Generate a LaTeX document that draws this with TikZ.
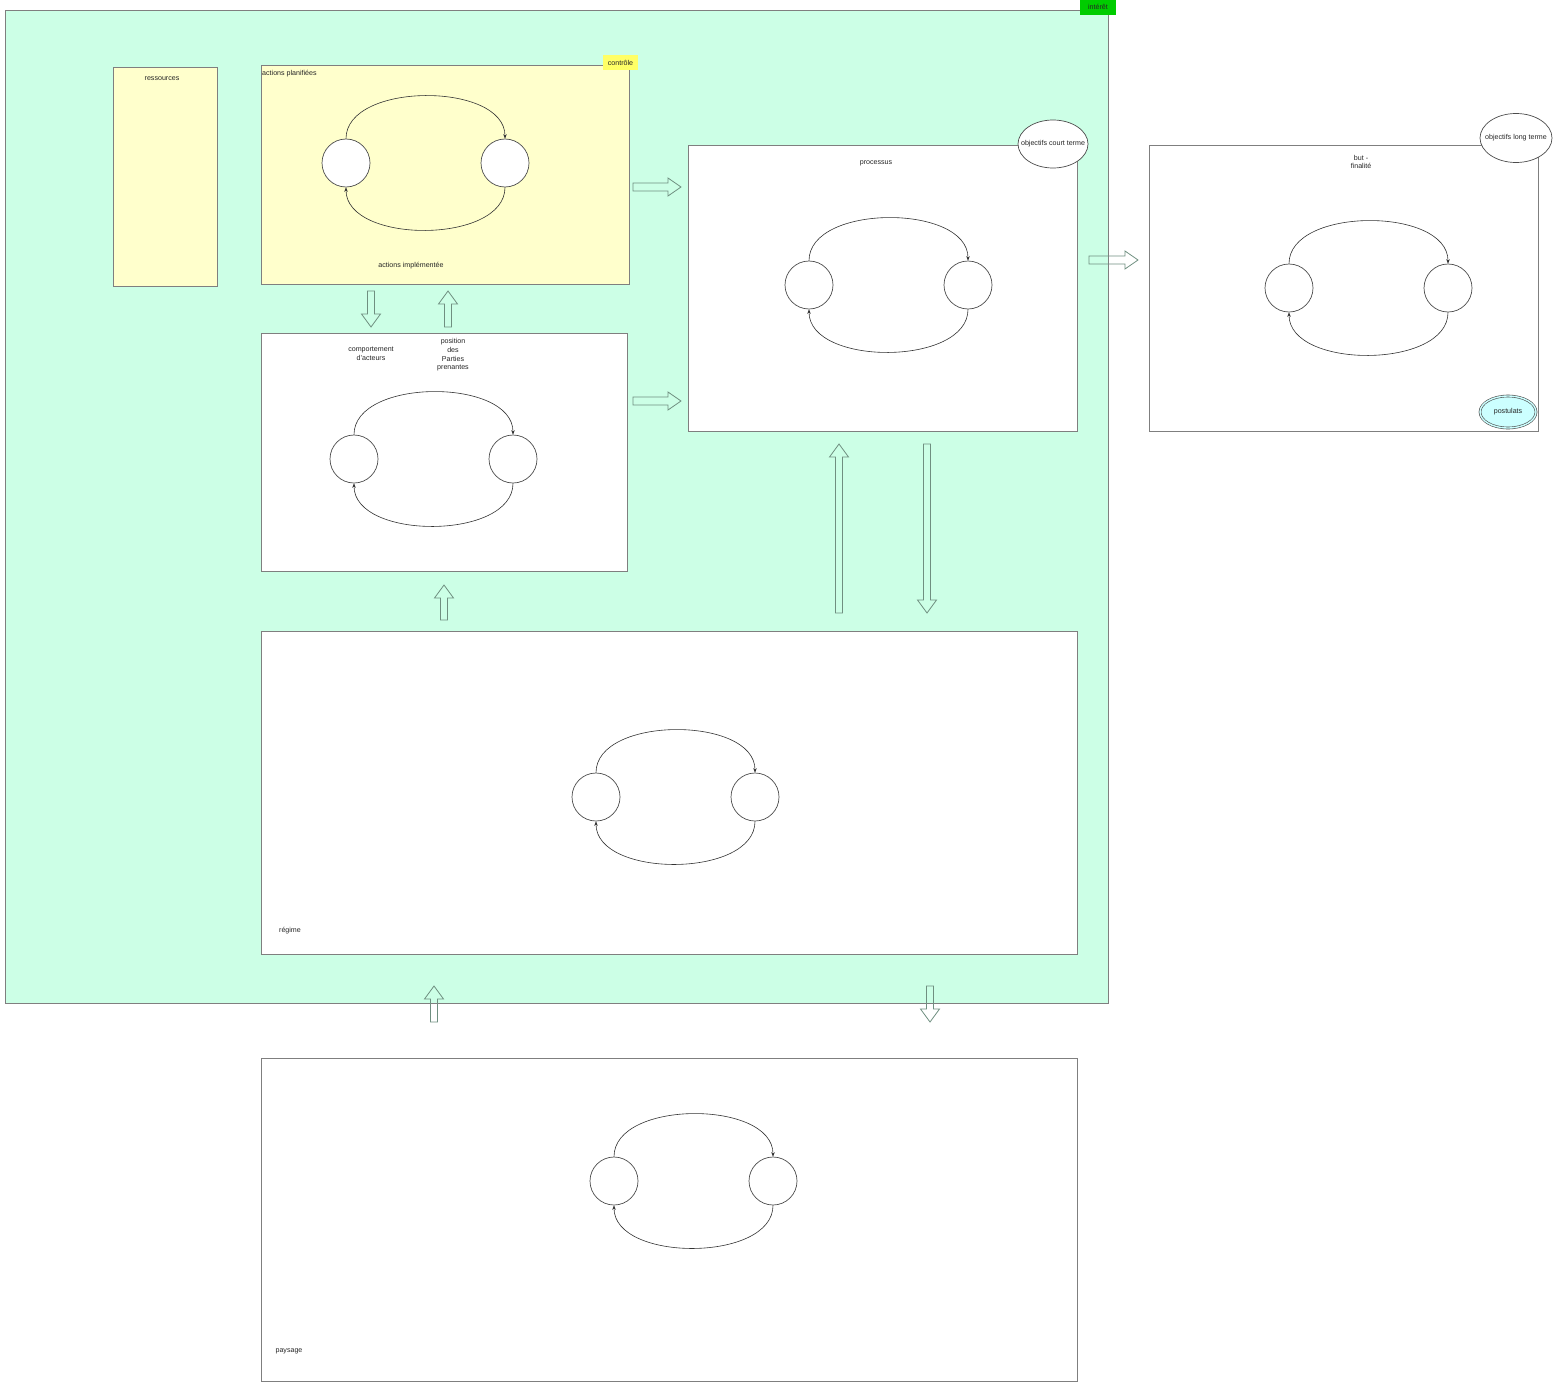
\documentclass[tikz,border=0pt]{standalone}
\usepackage{fontspec}
\setmainfont{Liberation Sans}
\usetikzlibrary{shapes.geometric,arrows.meta}
\definecolor{mint}{HTML}{CCFFE6}
\definecolor{paleyellow}{HTML}{FFFFCC}
\definecolor{tagyellow}{HTML}{FFFF66}
\definecolor{taggreen}{HTML}{00CC00}
\definecolor{palecyan}{HTML}{CCFFFF}
\definecolor{edgegray}{HTML}{7F7F7F}
\definecolor{arrgray}{HTML}{6F8F80}
\newcommand\cycl[4]{%
  \node[cnode] (#1l) at (#2,#4) {};
  \node[cnode] (#1r) at (#3,#4) {};
  \draw[cyc] (#1l.north) .. controls +(0,-57) and +(0,-57) .. (#1r.north);
  \draw[cyc] (#1r.south) .. controls +(0,57) and +(0,57) .. (#1l.south);
}
\newcommand\arrR[3]{\draw[blockarr] ({#1},{#3-4}) -- ({#2-13},{#3-4}) -- ({#2-13},{#3-9}) -- ({#2},{#3}) -- ({#2-13},{#3+9}) -- ({#2-13},{#3+4}) -- ({#1},{#3+4}) -- cycle;}
\newcommand\arrU[3]{\draw[blockarr] ({#1-3.5},{#2}) -- ({#1-3.5},{#3+13}) -- ({#1-9.5},{#3+13}) -- ({#1},{#3}) -- ({#1+9.5},{#3+13}) -- ({#1+3.5},{#3+13}) -- ({#1+3.5},{#2}) -- cycle;}
\newcommand\arrD[3]{\draw[blockarr] ({#1-3.5},{#2}) -- ({#1-3.5},{#3-13}) -- ({#1-9.5},{#3-13}) -- ({#1},{#3}) -- ({#1+9.5},{#3-13}) -- ({#1+3.5},{#3-13}) -- ({#1+3.5},{#2}) -- cycle;}
\begin{document}
\begin{tikzpicture}[x=1pt,y=-1pt,
  every node/.style={font=\fontsize{7.1}{8.6}\selectfont, text=black!85, inner sep=0pt},
  box/.style={draw=edgegray, line width=0.8pt, fill=white},
  cnode/.style={circle, draw=black!70, fill=white, minimum size=48pt, line width=0.7pt},
  cyc/.style={draw=black!80, line width=0.6pt, -{Stealth[length=4.5pt,width=3.5pt]}},
  blockarr/.style={draw=arrgray, line width=0.8pt},
  lbl/.style={align=center}
]
\useasboundingbox (0,0) rectangle (1554,1383);
% big green area
\draw[box, fill=mint] (5,10) rectangle (1108,1003);
\node[fill=taggreen, minimum width=36pt, minimum height=16pt] (interet) at (1098,7) {intérêt};
% ressources
\draw[box, fill=paleyellow] (113,67) rectangle (217,286);
\node (ressources) at (162,79) {ressources};
% actions planifiees
\draw[box, fill=paleyellow] (261,65) rectangle (629,284);
\node[anchor=west] (planif) at (262,74) {actions planifiées};
\node (implem) at (411,266) {actions implémentée};
\node[fill=tagyellow, minimum width=35pt, minimum height=15pt] (controle) at (620.5,62.5) {contrôle};
\cycl{ap}{346}{505}{163}
% comportement
\draw[box] (261,333) rectangle (627,571);
\node[lbl] (comport) at (371,354) {comportement\\d'acteurs};
\node[lbl] (position) at (453,355) {position\\des\\Parties\\prenantes};
\cycl{co}{354}{513}{459}
% processus
\draw[box] (688,145) rectangle (1077,431);
\node (processus) at (876,163) {processus};
\node[ellipse, draw=black!70, fill=white, minimum width=70pt, minimum height=48pt, line width=0.7pt] (oct) at (1053,144) {\makebox[0pt]{objectifs court terme}};
\cycl{pr}{809}{968}{285}
% but
\draw[box] (1149,145) rectangle (1538,431);
\node[lbl] (but) at (1361,162) {but -\\finalité};
\node[ellipse, draw=black!70, fill=white, minimum width=72pt, minimum height=49pt, line width=0.7pt] (olt) at (1516,138) {\makebox[0pt]{objectifs long terme}};
\node[ellipse, draw=black!70, double=palecyan, double distance=1.4pt, fill=palecyan, minimum width=56pt, minimum height=32pt, line width=0.6pt] (postulats) at (1508,412) {\makebox[0pt]{postulats}};
\cycl{bu}{1289}{1448}{288}
% regime
\draw[box] (261,631) rectangle (1077,954);
\node (regime) at (290,931) {régime};
\cycl{re}{596}{755}{797}
% paysage
\draw[box] (261,1058) rectangle (1077,1381);
\node (paysage) at (289,1351) {paysage};
\cycl{pa}{614}{773}{1181}
% block arrows
\arrR{633}{681}{187}
\arrR{633}{681}{401}
\arrR{1089}{1138}{260}
\arrD{371}{291}{327}
\arrU{448}{327}{291}
\arrU{839}{613}{444}
\arrD{927}{444}{613}
\arrU{444}{620}{585}
\arrU{434}{1022}{986}
\arrD{930}{986}{1022}
\end{tikzpicture}
\end{document}
